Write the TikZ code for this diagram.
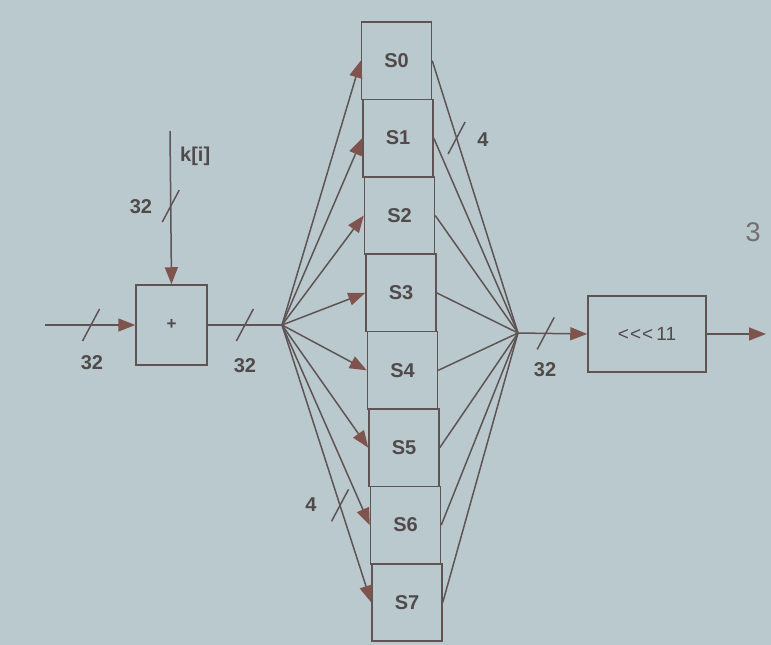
\documentclass[tikz,border=0pt]{standalone}
\usepackage{fontspec}
\setmainfont{Liberation Sans}
\usetikzlibrary{arrows.meta}
\definecolor{bg}{RGB}{186,201,206}
\definecolor{ln}{RGB}{95,84,84}
\definecolor{arr}{RGB}{128,84,78}
\definecolor{txt}{RGB}{80,74,74}
\begin{document}
\begin{tikzpicture}[x=1pt,y=-1pt,
  wire/.style={draw=ln, line width=1.5pt},
  arrowwire/.style={wire, -{Triangle[length=17pt,width=13pt,color=arr]}},
  box/.style={draw=ln, line width=1.5pt, inner sep=0pt, text=txt,
    font=\fontsize{20}{24}\selectfont\bfseries},
  lbl/.style={text=txt, font=\fontsize{20}{24}\selectfont\bfseries, inner sep=0pt},
  slashmark/.style={draw=ln, line width=1.5pt}]
\fill[bg] (0,0) rectangle (771,645);
\useasboundingbox (0,0) rectangle (771,645);

% adder
\node[box, minimum width=71pt, minimum height=80pt, font=\fontsize{17}{20}\selectfont\bfseries] (add) at (171.5,325) {+};
\coordinate (inL) at (45,325);
\coordinate (kin) at (170,131);
\coordinate (fan) at (282,325);
\coordinate (merge) at (518,333);

% S boxes
\foreach \i in {0,...,7}{
  \node[box, minimum width=70pt, minimum height=77.4pt] (S\i) at ({396.5+1.5*\i},{22+77.4*(\i+0.5)}) {S\i};
}

% rotation box
\node[box, minimum width=118pt, minimum height=76pt, font=\fontsize{19}{22}\selectfont] (rot) at (647,334) {<\kern1pt<\kern1pt<\,11};
\coordinate (outR) at (766,334);

% connectors
\draw[arrowwire] (inL) -- coordinate[pos=0.51] (sl1) (add.west);
\draw[arrowwire] (kin) -- coordinate[pos=0.49] (sl2) (add.north);
\draw[wire] (add.east) -- coordinate[pos=0.5] (sl3) (fan);
\foreach \i in {0,...,6}{
  \draw[arrowwire] (fan) -- (S\i.west);
}
\draw[arrowwire] (fan) -- coordinate[pos=0.65] (sl5) (S7.west);
\draw[wire] (S0.east) -- coordinate[pos=0.284] (sl4) (merge);
\foreach \i in {1,...,7}{
  \draw[wire] (S\i.east) -- (merge);
}
\draw[arrowwire] (merge) -- coordinate[pos=0.4] (sl6) (rot.west);
\draw[arrowwire] (rot.east) -- (outR);

% bus-width slashes
\foreach \c in {sl1,sl2,sl3,sl4,sl5,sl6}{
  \draw[slashmark] (\c) ++(-8.5,16) -- ++(17,-32);
}

% labels
\node[lbl] at (92,363) {32};
\node[lbl] at (141,207) {32};
\node[lbl, anchor=west] at (180,156) {k[i]};
\node[lbl] at (245,366) {32};
\node[lbl] at (545,370) {32};
\node[lbl] at (483,140) {4};
\node[lbl] at (311,505) {4};
\node[text=txt!80, font=\fontsize{27}{30}\selectfont, inner sep=0pt] at (753,232) {3};
\end{tikzpicture}
\end{document}
